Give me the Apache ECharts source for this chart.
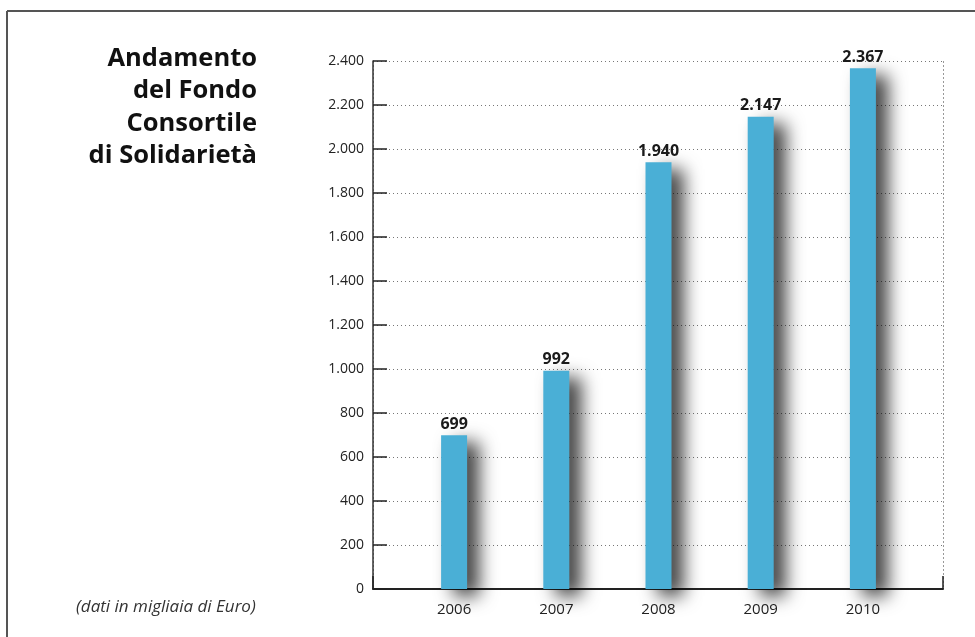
<!DOCTYPE html>
<html>
<head>
<meta charset="utf-8">
<script src="https://cdn.jsdelivr.net/npm/echarts@6/dist/echarts.min.js"></script>
<style>
  html, body { margin: 0; padding: 0; background: #fff; }
  #chart { width: 975px; height: 637px; }
</style>
</head>
<body>
<div id="chart"></div>
<script>
// dati del grafico
var anni = ['2006', '2007', '2008', '2009', '2010'];
var valori = [699, 992, 1940, 2147, 2367];
var titolo = ['Andamento', 'del Fondo', 'Consortile', 'di Solidarietà'];
var nota = '(dati in migliaia di Euro)';

function formatta(v) {
  // separatore delle migliaia con il punto
  return String(v).replace(/\B(?=(\d{3})+(?!\d))/g, '.');
}

var chart = echarts.init(document.getElementById('chart'), null, { renderer: 'canvas' });

var font = '"Open Sans", "Noto Sans", sans-serif';

var option = {
  animation: false,
  textStyle: { fontFamily: font },
  title: {
    text: titolo.join('\n'),
    left: 252,
    top: 37,
    textAlign: 'right',
    textStyle: {
      fontFamily: font,
      fontSize: 25.5,
      fontWeight: 'bold',
      color: '#111',
      lineHeight: 32.5,
      align: 'right'
    }
  },
  graphic: [
    // cornice: linea superiore e sinistra
    { type: 'line', shape: { x1: 7, y1: 11, x2: 975, y2: 11 }, style: { stroke: '#555', lineWidth: 2 } },
    { type: 'line', shape: { x1: 7, y1: 11, x2: 7, y2: 637 }, style: { stroke: '#555', lineWidth: 2 } },
    {
      type: 'text', left: 76, top: 599,
      style: { text: nota, font: 'italic 17px ' + font, fill: '#333' }
    }
  ],
  grid: [
    { left: 373, right: 32, top: 61, bottom: 48 },
    { left: 403, right: 61, top: 61, bottom: 48 }
  ],
  xAxis: [
    {
      type: 'value', gridIndex: 0, min: 0, max: 1, interval: 1,
      axisLine: { show: true, lineStyle: { color: '#222', width: 2 } },
      axisTick: { show: true, inside: true, length: 13, lineStyle: { color: '#222', width: 1.5 } },
      axisLabel: { show: false },
      splitLine: { show: true, lineStyle: { color: '#999', type: [2, 2], width: 1 } }
    },
    {
      type: 'category', gridIndex: 1, data: anni,
      axisLine: { show: false },
      axisTick: { show: false },
      axisLabel: { color: '#222', fontSize: 15, margin: 13 }
    }
  ],
  yAxis: [
    {
      type: 'value', gridIndex: 0, min: 0, max: 2400, interval: 200,
      axisLine: { show: true, lineStyle: { color: '#333', width: 1.5 } },
      axisTick: { show: true, inside: true, length: 14, lineStyle: { color: '#222', width: 1.5 } },
      axisLabel: { color: '#222', fontSize: 14, margin: 9, formatter: formatta },
      splitLine: { show: true, lineStyle: { color: '#777', type: [1, 3], width: 1 } }
    },
    {
      type: 'value', gridIndex: 1, min: 0, max: 2400, interval: 200, show: false
    }
  ],
  series: [
    {
      type: 'bar',
      xAxisIndex: 1, yAxisIndex: 1,
      data: valori,
      barWidth: 26,
      itemStyle: {
        color: '#4AAFD6',
        shadowColor: 'rgba(0,0,0,0.75)',
        shadowBlur: 18,
        shadowOffsetX: 12,
        shadowOffsetY: 7
      },
      label: {
        show: true,
        position: 'top',
        distance: 3,
        fontSize: 16,
        fontWeight: 'bold',
        color: '#1a1a1a',
        formatter: function (p) { return formatta(p.value); }
      }
    }
  ]
};

chart.setOption(option);
</script>
</body>
</html>
